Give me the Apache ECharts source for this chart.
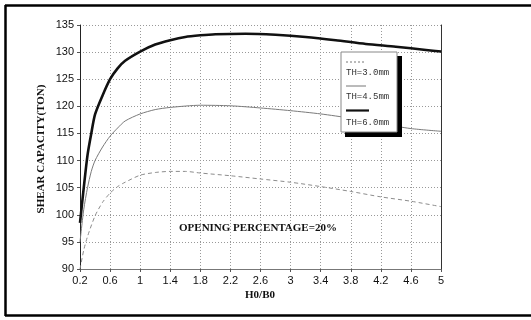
<!DOCTYPE html>
<html>
<head>
<meta charset="utf-8">
<script src="https://cdn.jsdelivr.net/npm/echarts@6/dist/echarts.min.js"></script>
<style>html,body{margin:0;padding:0;background:#fff;}#c{width:531px;height:320px;}</style>
</head>
<body>
<div id="c"></div>
<script>
// Tick labels
const xTickLabels = ['0.2','0.6','1','1.4','1.8','2.2','2.6','3','3.4','3.8','4.2','4.6','5'];
const yMin = 90, yMax = 135, yStep = 5;

// TH=3.0mm (dashed)
const th30X = [0.2, 0.25, 0.3, 0.4, 0.5, 0.6, 0.7, 0.8, 1.0, 1.2, 1.4, 1.6, 1.8, 2.2, 2.6, 3.0, 3.4, 3.8, 4.2, 4.6, 5.0];
const th30Y = [90, 93.5, 96, 99.8, 102.3, 104, 105.2, 106, 107.3, 107.8, 108.0, 108.0, 107.7, 107.2, 106.6, 106.0, 105.2, 104.3, 103.3, 102.5, 101.5];

// TH=4.5mm (thin solid)
const th45X = [0.2, 0.25, 0.3, 0.35, 0.4, 0.5, 0.6, 0.7, 0.8, 1.0, 1.2, 1.4, 1.8, 2.2, 2.6, 3.0, 3.4, 3.8, 4.2, 4.6, 5.0];
const th45Y = [95, 101, 105, 108, 110, 112.5, 114.5, 116, 117.3, 118.6, 119.4, 119.8, 120.2, 120.1, 119.7, 119.2, 118.6, 117.8, 116.8, 115.9, 115.4];

// TH=6.0mm (thick solid)
const th60X = [0.2, 0.25, 0.3, 0.35, 0.4, 0.5, 0.6, 0.7, 0.8, 1.0, 1.2, 1.4, 1.6, 1.8, 2.0, 2.4, 2.8, 3.2, 3.6, 4.0, 4.4, 4.8, 5.0];
const th60Y = [98.5, 105, 111, 115, 118.5, 122, 125, 127, 128.4, 130.1, 131.4, 132.2, 132.8, 133.1, 133.3, 133.4, 133.2, 132.8, 132.2, 131.5, 131.0, 130.4, 130.1];

const legendNames = ['TH=3.0mm', 'TH=4.5mm', 'TH=6.0mm'];

function pairs(xs, ys) { return xs.map((x, i) => [x, ys[i]]); }

const chart = echarts.init(document.getElementById('c'), null, {renderer: 'canvas'});
const serif = '"Liberation Serif","Times New Roman",serif';
const sans = '"Liberation Sans",Arial,sans-serif';
const mono = '"Liberation Mono","Courier New",monospace';

const option = {
  animation: false,
  backgroundColor: '#fff',
  grid: {left: 80, top: 25, width: 361, height: 244, containLabel: false},
  xAxis: [
    {type: 'value', min: 0.2, max: 5, show: false},
    {type: 'category', data: xTickLabels, boundaryGap: false, position: 'bottom',
     axisLine: {show: true, lineStyle: {color: '#777', width: 1}},
     axisTick: {show: true, length: 3, lineStyle: {color: '#555'}},
     axisLabel: {color: '#111', fontFamily: sans, fontSize: 11, margin: 6},
     splitLine: {show: true, lineStyle: {color: '#999', type: [1, 2], width: 1}}}
  ],
  yAxis: [
    {type: 'value', min: yMin, max: yMax, interval: yStep,
     axisLine: {show: true, lineStyle: {color: '#222', width: 1}},
     axisTick: {show: true, length: 3, lineStyle: {color: '#555'}},
     axisLabel: {color: '#111', fontFamily: sans, fontSize: 11, margin: 6},
     splitLine: {show: true, lineStyle: {color: '#999', type: [1, 2], width: 1}}},
    {type: 'value', min: yMin, max: yMax, position: 'right',
     axisLine: {show: true, lineStyle: {color: '#333', width: 1}},
     axisTick: {show: false}, axisLabel: {show: false}, splitLine: {show: false}}
  ],
  series: [
    {name: legendNames[0], type: 'line', xAxisIndex: 0, yAxisIndex: 0, data: pairs(th30X, th30Y),
     smooth: 0.25, showSymbol: false,
     lineStyle: {color: '#8c8c8c', width: 1, type: [4, 3]}},
    {name: legendNames[1], type: 'line', xAxisIndex: 0, yAxisIndex: 0, data: pairs(th45X, th45Y),
     smooth: 0.25, showSymbol: false,
     lineStyle: {color: '#7a7a7a', width: 1}},
    {name: legendNames[2], type: 'line', xAxisIndex: 0, yAxisIndex: 0, data: pairs(th60X, th60Y),
     smooth: 0.25, showSymbol: false,
     lineStyle: {color: '#111', width: 2.6}}
  ],
  graphic: [
    // outer frame
    {type: 'line', shape: {x1: 5, y1: 5.5, x2: 531, y2: 5.5}, style: {stroke: '#000', lineWidth: 2.5}},
    {type: 'line', shape: {x1: 5.5, y1: 5, x2: 5.5, y2: 316}, style: {stroke: '#000', lineWidth: 2.5}},
    {type: 'line', shape: {x1: 5, y1: 315.5, x2: 531, y2: 315.5}, style: {stroke: '#000', lineWidth: 2.5}},
    // axis titles
    {type: 'text', x: 41, y: 149, rotation: Math.PI / 2,
     style: {text: 'SHEAR CAPACITY(TON)', font: 'bold 11px ' + serif, fill: '#111', align: 'center', verticalAlign: 'middle'}},
    {type: 'text', x: 260, y: 295,
     style: {text: 'H0/B0', font: 'bold 11px ' + serif, fill: '#111', align: 'center', verticalAlign: 'middle'}},
    {type: 'text', x: 258, y: 228,
     style: {text: 'OPENING PERCENTAGE=20%', font: 'bold 11px ' + serif, fill: '#111', align: 'center', verticalAlign: 'middle'}},
    // legend box with shadow
    {type: 'rect', z: 10, shape: {x: 345, y: 56, width: 57, height: 81}, style: {fill: '#000'}},
    {type: 'rect', z: 11, shape: {x: 341, y: 52, width: 56, height: 80}, style: {fill: '#fff', stroke: '#888', lineWidth: 1}},
    {type: 'line', z: 12, shape: {x1: 346, y1: 62, x2: 366, y2: 62}, style: {stroke: '#777', lineWidth: 1, lineDash: [2, 2]}},
    {type: 'text', z: 12, x: 346, y: 73, style: {text: legendNames[0], font: '9px ' + mono, fill: '#333', verticalAlign: 'middle'}},
    {type: 'line', z: 12, shape: {x1: 346, y1: 86, x2: 366, y2: 86}, style: {stroke: '#777', lineWidth: 1}},
    {type: 'text', z: 12, x: 346, y: 97, style: {text: legendNames[1], font: '9px ' + mono, fill: '#333', verticalAlign: 'middle'}},
    {type: 'line', z: 12, shape: {x1: 346, y1: 110.5, x2: 369, y2: 110.5}, style: {stroke: '#111', lineWidth: 2.2}},
    {type: 'text', z: 12, x: 346, y: 123, style: {text: legendNames[2], font: '9px ' + mono, fill: '#333', verticalAlign: 'middle'}}
  ]
};
chart.setOption(option);
</script>
</body>
</html>
